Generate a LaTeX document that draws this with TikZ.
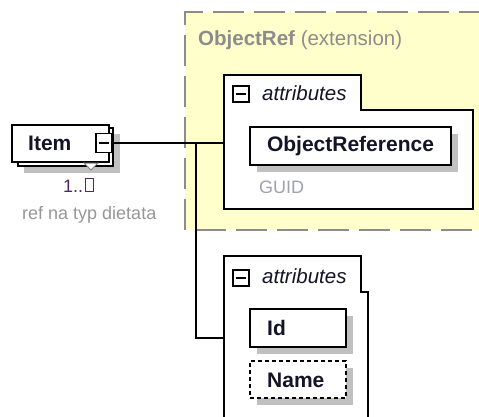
\documentclass[tikz,border=0pt]{standalone}
\usepackage{fontspec}
\setmainfont{Liberation Sans}
\definecolor{extfill}{RGB}{255,255,204}
\definecolor{extline}{RGB}{140,140,140}
\definecolor{shadowgray}{RGB}{192,192,192}
\definecolor{txtgray}{RGB}{150,150,150}
\definecolor{guidgray}{RGB}{160,160,175}
\definecolor{multcol}{RGB}{80,40,100}
\definecolor{nametxt}{RGB}{20,20,40}
\tikzset{
  boxline/.style={draw=black, line width=1.8pt, fill=white},
  shadowbox/.style={fill=shadowgray, draw=none},
  elemtext/.style={font=\fontsize{21}{24}\selectfont\bfseries, text=nametxt},
  attrtext/.style={font=\fontsize{20.5}{24}\selectfont\itshape, text=nametxt, anchor=base west, inner sep=0pt},
  togglebox/.style={draw=black, line width=1.4pt, fill=white, minimum width=16pt, minimum height=16pt, inner sep=0pt},
  conn/.style={draw=black, line width=1.6pt},
}
\begin{document}
\begin{tikzpicture}[x=1pt,y=-1pt]
\useasboundingbox (0,0) rectangle (479,416);
% extension area
\fill[extfill] (185,12) rectangle (490,230);
\draw[extline, line width=2.4pt, dash pattern=on 31pt off 10pt] (490,12) -- (185,12) -- (185,230) -- (490,230);
\node[anchor=base west, inner sep=0pt, text=extline, font=\fontsize{20.5}{24}\selectfont] (extlabel) at (198,45) {\textbf{ObjectRef} (extension)};

% attributes group 1
\draw[boxline] (224,75) -- (361,75) -- (361,110) -- (473,110) -- (473,209) -- (224,209) -- cycle;
\coordinate (att1in) at (224,143);
\node[togglebox] (tog1) at (241,94) {};
\draw[line width=1.4pt] (tog1.center) ++(-5,0) -- ++(10,0);
\node[attrtext] (att1lbl) at (262,100) {attributes};
\fill[shadowgray] (257,134) rectangle (458,172);
\node[boxline, minimum width=201pt, minimum height=38pt, inner sep=0pt, elemtext] (objref) at (350.5,146) {ObjectReference};
\node[anchor=base west, inner sep=0pt, text=guidgray, font=\fontsize{18}{22}\selectfont] (guid) at (259,193) {GUID};

% attributes group 2
\draw[boxline] (224,420) -- (224,256) -- (361,256) -- (361,292) -- (368,292) -- (368,420);
\coordinate (att2in) at (224,338);
\node[togglebox] (tog2) at (241,278) {};
\draw[line width=1.4pt] (tog2.center) ++(-5,0) -- ++(10,0);
\node[attrtext] (att2lbl) at (262,283) {attributes};
\fill[shadowgray] (257,316) rectangle (353,354);
\node[boxline, minimum width=96pt, minimum height=38pt, inner sep=0pt] (idbox) at (298,328) {};
\node[elemtext, anchor=west, inner sep=0pt] (idlbl) at (267,328) {Id};
\fill[shadowgray] (257,368) rectangle (353,405);
\node[draw=black, fill=white, line width=1.6pt, dash pattern=on 4pt off 3pt, minimum width=96pt, minimum height=37pt, inner sep=0pt] (namebox) at (298,379.5) {};
\node[elemtext, anchor=west, inner sep=0pt] (namelbl) at (267,380) {Name};

% Item element (multiple occurrences)
\fill[shadowgray] (24,134) rectangle (120,173);
\draw[boxline] (18,128) rectangle (113,166);
\draw[boxline] (12,125) rectangle (109,162);
\draw[draw=gray, fill=white, line width=1pt] (84,163) -- (98,163) -- (91,170) -- cycle;
\node[elemtext, anchor=west, inner sep=0pt] (item) at (28,143) {Item};
\node[togglebox, minimum width=16pt, minimum height=19pt] (itemtog) at (104,143) {};
\draw[line width=1.4pt] (itemtog.center) ++(-5,0) -- ++(10,0);
\node[anchor=base west, inner sep=0pt, text=multcol, font=\fontsize{18}{22}\selectfont] (mult) at (63,192) {1..};
\node[draw=multcol, line width=1.2pt, minimum width=8pt, minimum height=13pt, inner sep=0pt, anchor=south west] (multbox) at ([xshift=1.5pt]mult.base east) {};
\node[anchor=base west, inner sep=0pt, text=txtgray, font=\fontsize{18}{22}\selectfont] (refnote) at (22,219) {ref na typ dietata};

% connectors
\coordinate (fork) at (196,143);
\draw[conn] (itemtog.east) -- (att1in);
\draw[conn] (fork) |- (att2in);
\end{tikzpicture}
\end{document}
